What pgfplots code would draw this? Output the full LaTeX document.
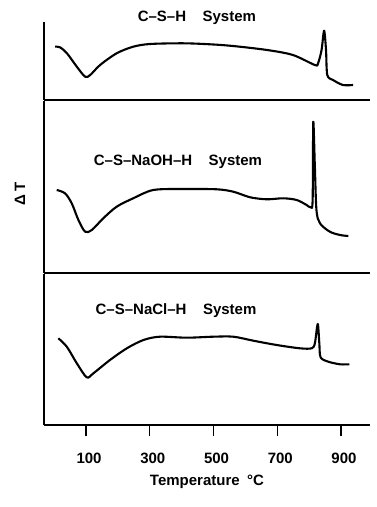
\documentclass[border=0pt]{standalone}
\usepackage{fontspec}
\setmainfont{Liberation Sans}
\usepackage{pgfplots}
\pgfplotsset{compat=1.18}
\usepackage{pgfplotstable}

% DTA traces: temperature (deg C) against Delta T (arbitrary units)
\pgfplotstableread{
T dT
3 53.3
18 52.7
40 46.7
71 33.3
97 23.3
113 25
144 35
196 46.7
248 53.3
301 56
404 56.7
489 55.7
561 54
668 50
749 45
818 35
828 36.7
839 50
847 69.3
853 50
857 25
875 20
906 15
938 15
}\dataCSH

\pgfplotstableread{
T dT
8 83
34 79.7
55 69.7
76 53
97 41.3
118 43
154 54.7
196 66.3
248 74.7
311 83
405 84
510 83.7
562 81.3
615 75.7
667 73.7
719 74.7
761 73
792 68
805 65.7
811 73
813 151.3
818 106.3
823 63
834 49.7
865 41.3
897 38
923 37
}\dataNaOH

\pgfplotstableread{
T dT
13 86.7
39.5 78.3
71 61.7
102 47.7
123 51.7
175 65
228 76.7
280 85
332 88.3
416 87.3
499 88.3
562 88.3
625 84.3
698 80
771 76.7
808 76.7
818 81.7
827 101
832 81.7
836 67.7
860 63.3
897 60.7
926 60.7
}\dataNaCl

\newcommand\lab{\fontsize{15}{17}\selectfont\bfseries}

\begin{document}
\begin{tikzpicture}
\path[use as bounding box] (0,0) rectangle (376pt,507pt);
\pgfplotsset{
  panel/.style={
    scale only axis, width=326pt,
    xmin=-32, xmax=991, ymin=0,
    axis x line=bottom, axis y line=left,
    axis line style={-, line width=1.4pt},
    xtick=\empty, ytick=\empty, clip=false,
  },
  trace/.style={black, line width=2.1pt, smooth, tension=0.5, line join=round},
}
\begin{axis}[panel, height=78pt, ymax=78, at={(44pt,407pt)}, anchor=south west]
  \addplot[trace] table[x=T, y=dT] {\dataCSH};
  \node[font=\lab] at (axis description cs:0.469,1.051) {C--S--H\hspace{1.1em}System};
\end{axis}
\begin{axis}[panel, height=172pt, ymax=172, at={(44pt,234pt)}, anchor=south west,
  ylabel={Δ\,T}, ylabel style={font=\lab, at={(axis description cs:-0.074,0.46)}, anchor=center}]
  \addplot[trace] table[x=T, y=dT] {\dataNaOH};
  \node[font=\lab] at (axis description cs:0.411,0.647) {C--S--NaOH--H\hspace{1.1em}System};
\end{axis}
\begin{axis}[panel, height=151pt, ymax=151, at={(44pt,82pt)}, anchor=south west,
  xtick={100,300,500,700,900}, xtick align=outside, major tick length=11pt,
  tick style={black, line width=1.4pt},
  /pgf/number format/assume math mode=true,
  xticklabel style={font=\lab, yshift=-13pt, xshift=3pt},
  xlabel={Temperature\hspace{0.5em}°C},
  xlabel style={font=\lab, at={(axis description cs:0.5,0)}, anchor=center, yshift=-57pt}]
  \addplot[trace] table[x=T, y=dT] {\dataNaCl};
  \node[font=\lab] at (axis description cs:0.405,0.757) {C--S--NaCl--H\hspace{1.1em}System};
\end{axis}
\end{tikzpicture}
\end{document}
